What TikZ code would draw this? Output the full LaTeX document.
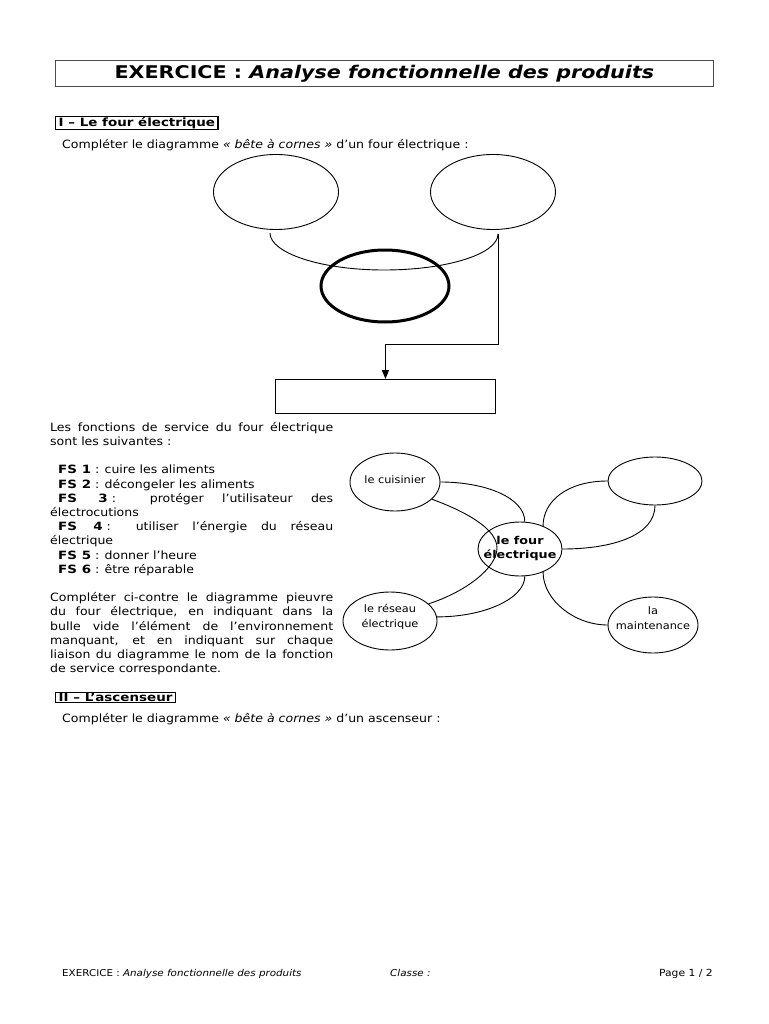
\documentclass[tikz,border=0pt]{standalone}
\usepackage{fontspec}
\setmainfont{DejaVu Sans}[FakeStretch=1.1,BoldFeatures={FakeStretch=1.18},BoldItalicFeatures={FakeStretch=1.18}]
\usetikzlibrary{shapes.geometric,arrows.meta}
\newcommand\bodyfont{\fontsize{11.4}{14.2}\selectfont}
\newcommand\fsc{\hspace{4pt}:}
\tikzset{
  bubble/.style={draw,ellipse,line width=0.9pt,inner sep=0pt},
  link/.style={line width=0.9pt},
  secbox/.style={draw,line width=1.4pt,inner xsep=3pt,inner ysep=0.6pt,font=\bodyfont\bfseries},
  bodytext/.style={font=\bodyfont,inner sep=0pt},
  lbl/.style={font=\fontsize{10.3}{14.5}\selectfont,align=center,inner sep=0pt},
}
\begin{document}
\begin{tikzpicture}[x=1pt,y=-1pt]
\useasboundingbox (0,0) rectangle (768,1024);
\fill[white] (0,0) rectangle (768,1024);
% title
\node[draw=black!70,line width=0.8pt,minimum width=658pt,minimum height=26pt,inner sep=0pt,anchor=north west,
  font=\fontsize{17.5}{18}\selectfont\bfseries] (title) at (55,60)
  {EXERCICE : \textit{Analyse fonctionnelle des produits}};
% section I
\node[secbox,anchor=north west] (s1) at (55,116) {I -- Le four électrique};
\node[bodytext,anchor=base west] (t1) at (62,149) {Compléter le diagramme \textit{« bête à cornes »} d’un four électrique :};
% bete a cornes
\node[bubble,minimum width=125pt,minimum height=75pt] (L) at (276,192) {};
\node[bubble,minimum width=125pt,minimum height=75pt] (R) at (493,192) {};
\coordinate (hl) at (270,233);
\coordinate (hb) at (384,270);
\coordinate (hr) at (498,234);
\draw[link] (hl) .. controls +(0,20) and +(-63,0) .. (hb) .. controls +(63,0) and +(0,20) .. (hr);
\node[draw,ellipse,line width=3pt,minimum width=128pt,minimum height=72pt,inner sep=0pt] (P) at (385,286) {};
\node[draw,line width=0.9pt,minimum width=220pt,minimum height=34pt,inner sep=0pt,anchor=north west] (B) at (275,379) {};
\draw[link,-{Triangle[length=9pt,width=7pt]}] (hr) -- (498,344) -| (B.north);
% text block
\node[bodytext,anchor=north west,text width=283pt,align=justify] (txt) at (50,422) {%
\setlength{\parindent}{0pt}%
Les fonctions de service du four électrique\linebreak sont les suivantes :\par
\vspace{14.2pt}%
\hspace*{8pt}\textbf{FS 1}\fsc{} cuire les aliments\par
\hspace*{8pt}\textbf{FS 2}\fsc{} décongeler les aliments\par
\hspace*{8pt}\textbf{FS 3}\fsc{} protéger l’utilisateur des\linebreak électrocutions\par
\hspace*{8pt}\textbf{FS 4}\fsc{} utiliser l’énergie du réseau\linebreak électrique\par
\hspace*{8pt}\textbf{FS 5}\fsc{} donner l’heure\par
\hspace*{8pt}\textbf{FS 6}\fsc{} être réparable\par
\vspace{14.2pt}%
Compléter ci-contre le diagramme pieuvre\linebreak du four électrique, en indiquant dans la\linebreak bulle vide l’élément de l’environnement\linebreak manquant, et en indiquant sur chaque\linebreak liaison du diagramme le nom de la fonction\linebreak de service correspondante.};
% pieuvre
\node[bubble,minimum width=84pt,minimum height=54pt] (fo) at (520,549) {};
\node[bubble,minimum width=90pt,minimum height=58pt] (cu) at (395,482) {};
\node[bubble,minimum width=94pt,minimum height=48pt] (em) at (655,481) {};
\node[bubble,minimum width=94pt,minimum height=58pt] (re) at (390,621) {};
\node[bubble,minimum width=90pt,minimum height=56pt] (ma) at (653,625) {};
\coordinate (mid) at (497,548);
\draw[link] (cu.east) .. controls +(45,0) and +(0,-24) .. (fo.80);
\draw[link] (cu.-25) .. controls +(38,14) and +(0,-18) .. (mid) .. controls +(0,20) and +(37,-12) .. (re.24);
\draw[link] (re.5) .. controls +(48,0) and +(0,22) .. (fo.-80);
\draw[link] (em.west) .. controls +(-40,0) and +(0,-25) .. (fo.45);
\draw[link] (em.south) .. controls +(0,30) and +(50,0) .. (fo.east);
\draw[link] (fo.-45) .. controls +(0,28) and +(-33,0) .. (ma.west);
\node[font=\fontsize{10.8}{14}\selectfont\bfseries,align=center,inner sep=0pt] (fot) at (520,549) {le four\\électrique};
\node[lbl] (cut) at (395,480) {le cuisinier};
\node[lbl] (ret) at (390,617) {le réseau\\électrique};
\node[lbl] (mat) at (653,618) {la\\maintenance};
% section II
\node[secbox,anchor=north west] (s2) at (55,692) {II -- L’ascenseur};
\node[bodytext,anchor=base west] (t2) at (62,722) {Compléter le diagramme \textit{« bête à cornes »} d’un ascenseur :};
% footer
\node[font=\fontsize{9.4}{10}\selectfont,inner sep=0pt,anchor=base west] (f1) at (62,976) {EXERCICE : \textit{Analyse fonctionnelle des produits}};
\node[font=\fontsize{9.4}{10}\selectfont\itshape,inner sep=0pt,anchor=base west] (f2) at (390,976) {Classe :};
\node[font=\fontsize{9.8}{10}\selectfont,inner sep=0pt,anchor=base east] (f3) at (713,976) {Page 1 / 2};
\end{tikzpicture}
\end{document}
